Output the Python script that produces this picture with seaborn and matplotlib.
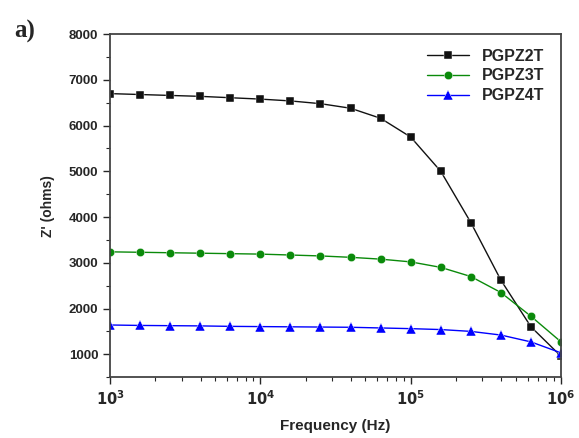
"""Z' vs frequency for the three PGPZ samples."""
import numpy as np
import pandas as pd
import matplotlib
matplotlib.use("Agg")
import matplotlib.pyplot as plt
import seaborn as sns

# frequency points (Hz), 5 per decade
freq = [1.0e3, 1.585e3, 2.512e3, 3.981e3, 6.310e3,
        1.0e4, 1.585e4, 2.512e4, 3.981e4, 6.310e4,
        1.0e5, 1.585e5, 2.512e5, 3.981e5, 6.310e5, 1.0e6]

z_pgpz2t = [6700, 6680, 6660, 6640, 6610, 6580, 6540, 6480,
            6380, 6160, 5750, 5000, 3880, 2620, 1600, 955]
z_pgpz3t = [3240, 3230, 3220, 3210, 3200, 3190, 3170, 3150,
            3120, 3080, 3020, 2900, 2700, 2350, 1830, 1270]
z_pgpz4t = [1640, 1630, 1625, 1620, 1610, 1605, 1600, 1595,
            1590, 1575, 1560, 1540, 1500, 1420, 1270, 1030]

samples = ["PGPZ2T", "PGPZ3T", "PGPZ4T"]
colors = {"PGPZ2T": "#111111", "PGPZ3T": "#0a8a0a", "PGPZ4T": "#0000ff"}
markers = {"PGPZ2T": "s", "PGPZ3T": "o", "PGPZ4T": "^"}

xticks = [1e3, 1e4, 1e5, 1e6]
xtick_labels = [r"$\mathbf{10^{3}}$", r"$\mathbf{10^{4}}$",
                r"$\mathbf{10^{5}}$", r"$\mathbf{10^{6}}$"]
yticks = [1000, 2000, 3000, 4000, 5000, 6000, 7000, 8000]

df = pd.DataFrame({
    "freq": freq * 3,
    "z": z_pgpz2t + z_pgpz3t + z_pgpz4t,
    "sample": np.repeat(samples, len(freq)),
})

sns.set_style("ticks")
plt.rcParams["font.family"] = ["Liberation Sans", "DejaVu Sans"]
plt.rcParams["font.weight"] = "bold"

fig = plt.figure(figsize=(5.79, 4.38), dpi=100)
ax = fig.add_axes([0.19, 0.139, 0.779, 0.783])

sns.lineplot(data=df, x="freq", y="z", hue="sample", style="sample",
             palette=colors, markers=markers, dashes=False, ax=ax,
             linewidth=1.0, markersize=6, markeredgewidth=0.3,
             markeredgecolor="white")

# triangles read smaller than squares at the same size, bump them up
for ln in ax.get_lines():
    if ln.get_marker() == "^":
        ln.set_markersize(7.5)

ax.set_xscale("log")
ax.set_xlim(1e3, 1e6)
ax.set_ylim(500, 8000)
ax.set_xticks(xticks)
ax.set_xticklabels(xtick_labels, fontsize=10.5)
ax.set_yticks(yticks)
ax.set_yticklabels([str(v) for v in yticks], fontsize=9.5, fontweight="bold")
ax.yaxis.set_minor_locator(matplotlib.ticker.MultipleLocator(500))
ax.tick_params(which="major", direction="out", length=5, width=1, top=False, right=False)
ax.tick_params(which="minor", direction="out", length=3, width=0.8, top=False, right=False)

for s in ax.spines.values():
    s.set_linewidth(1.3)
    s.set_color("#444444")

ax.set_xlabel("Frequency (Hz)", fontsize=11, fontweight="bold", labelpad=8)
ax.set_ylabel("Z' (ohms)", fontsize=10, fontweight="bold", labelpad=10)

leg = ax.legend(loc="upper right", frameon=False, fontsize=11.5,
                handlelength=2.6, borderaxespad=0.4, labelspacing=0.3,
                bbox_to_anchor=(0.99, 0.995))
for t in leg.get_texts():
    t.set_fontweight("bold")

fig.text(0.025, 0.955, "a)", fontsize=18, fontweight="bold",
         family=["Liberation Serif", "DejaVu Serif"], va="top")

fig.savefig("out.png", dpi=100)
